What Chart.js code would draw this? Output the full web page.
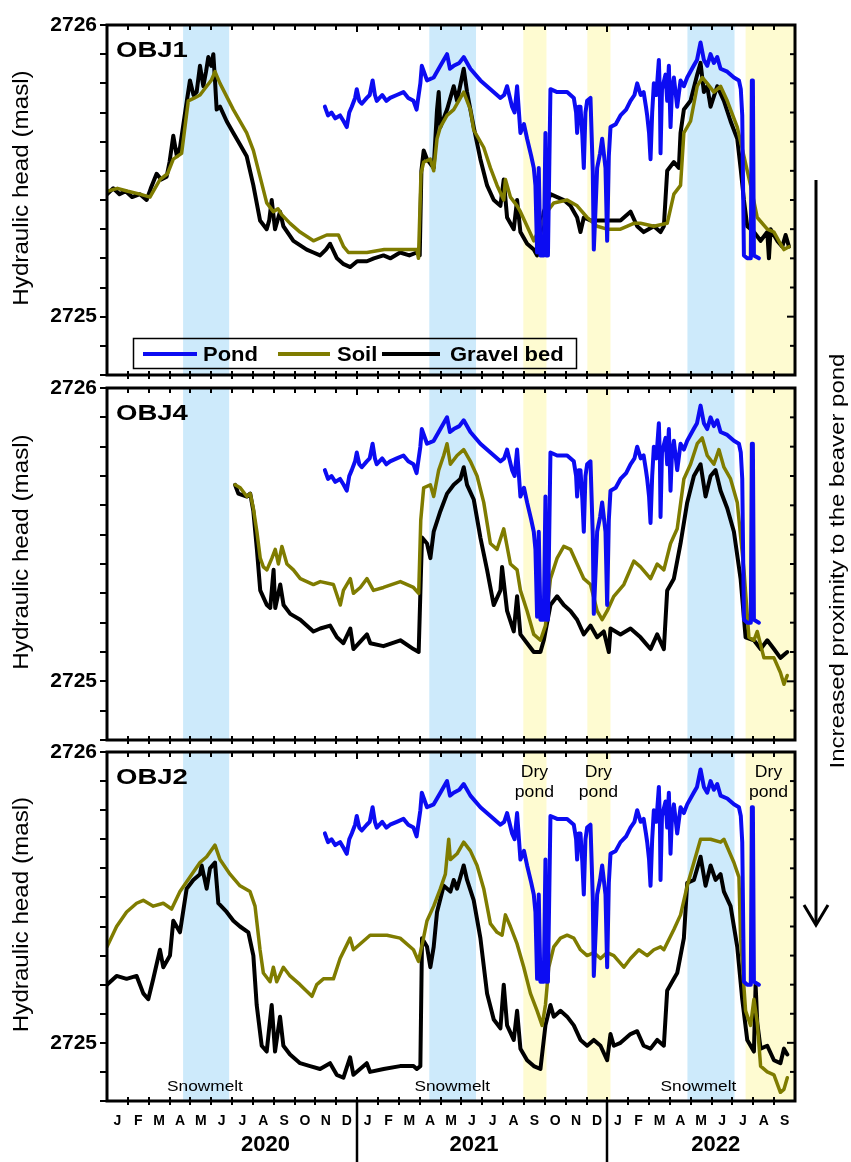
<!DOCTYPE html>
<html>
<head>
<meta charset="utf-8">
<script src="https://cdn.jsdelivr.net/npm/chart.js@4.4.0/dist/chart.umd.min.js"></script>
<style>
  html, body { margin: 0; padding: 0; background: #fff; }
  #wrap { position: relative; width: 851px; height: 1162px; }
  #wrap canvas { position: absolute; left: 0; top: 0; }
</style>
</head>
<body>
<div id="wrap">
  <canvas id="obj1" width="851" height="1162"></canvas>
  <canvas id="obj4" width="851" height="1162"></canvas>
  <canvas id="obj2" width="851" height="1162"></canvas>
</div>
<script>
// x values are months since 1 Jan 2020, y values hydraulic head (masl)
const monthLetters = ['J','F','M','A','M','J','J','A','S','O','N','D'];
const years = ['2020', '2021', '2022'];
const yearLabelAt = [7.6, 17.6, 29.2];
const yTicks = [2724.8, 2724.9, 2725.0, 2725.1, 2725.2, 2725.3, 2725.4, 2725.5, 2725.6, 2725.7, 2725.8, 2725.9, 2726.0];

const snowmeltPeriods = [[3.65, 5.86], [15.46, 17.7], [27.84, 30.1]];
const dryPondPeriods = [[19.97, 21.08], [23.04, 24.15], [30.63, 33]];
const snowmeltLabelAt = [4.7, 16.56, 28.37];
const dryPondLabelAt = [20.5, 23.57, 31.73];

// pond level (same logger shown in every panel)
const pond = [[10.45,2725.72],[10.6,2725.69],[10.77,2725.70],[10.95,2725.68],[11.18,2725.69],[11.35,2725.67],[11.5,2725.65],[11.62,2725.70],[11.74,2725.72],[11.9,2725.75],[11.98,2725.78],[12.1,2725.74],[12.22,2725.73],[12.46,2725.75],[12.6,2725.76],[12.74,2725.81],[12.85,2725.76],[12.94,2725.74],[13.2,2725.76],[13.4,2725.74],[13.58,2725.75],[13.9,2725.76],[14.22,2725.77],[14.45,2725.75],[14.7,2725.74],[14.85,2725.71],[15.03,2725.80],[15.1,2725.86],[15.35,2725.81],[15.67,2725.82],[15.99,2725.86],[16.31,2725.90],[16.45,2725.85],[16.63,2725.86],[16.9,2725.87],[17.11,2725.89],[17.43,2725.85],[17.91,2725.81],[18.39,2725.78],[18.87,2725.75],[19.05,2725.76],[19.19,2725.79],[19.43,2725.72],[19.55,2725.70],[19.67,2725.79],[19.83,2725.63],[20.0,2725.66],[20.15,2725.61],[20.35,2725.55],[20.47,2725.51],[20.55,2725.45],[20.63,2725.22],[20.71,2725.51],[20.79,2725.21],[20.95,2725.21],[21.03,2725.63],[21.07,2725.21],[21.15,2725.21],[21.27,2725.78],[21.59,2725.77],[22.07,2725.77],[22.39,2725.75],[22.5,2725.70],[22.55,2725.63],[22.62,2725.72],[22.71,2725.72],[22.8,2725.62],[22.87,2725.51],[22.95,2725.70],[23.03,2725.74],[23.19,2725.75],[23.3,2725.50],[23.35,2725.23],[23.45,2725.40],[23.51,2725.51],[23.65,2725.56],[23.75,2725.61],[23.91,2725.51],[23.99,2725.26],[24.07,2725.55],[24.15,2725.65],[24.4,2725.66],[24.63,2725.69],[24.9,2725.71],[25.11,2725.74],[25.3,2725.76],[25.43,2725.80],[25.6,2725.76],[25.74,2725.77],[25.85,2725.72],[25.91,2725.69],[26.0,2725.63],[26.07,2725.54],[26.15,2725.70],[26.23,2725.80],[26.35,2725.76],[26.47,2725.88],[26.52,2725.76],[26.55,2725.56],[26.62,2725.78],[26.79,2725.83],[26.87,2725.74],[26.95,2725.86],[27.03,2725.65],[27.1,2725.78],[27.19,2725.82],[27.35,2725.72],[27.51,2725.81],[27.67,2725.79],[27.83,2725.82],[28.14,2725.86],[28.3,2725.88],[28.47,2725.94],[28.63,2725.88],[28.79,2725.86],[28.95,2725.90],[29.11,2725.87],[29.27,2725.89],[29.43,2725.85],[29.75,2725.84],[30.07,2725.82],[30.31,2725.81],[30.4,2725.78],[30.47,2725.69],[30.55,2725.21],[30.71,2725.20],[30.88,2725.20],[30.93,2725.81],[30.98,2725.81],[31.03,2725.21],[31.27,2725.20]];

// OBJ1
const soilObj1 = [[0,2725.43],[0.5,2725.44],[1.0,2725.43],[1.58,2725.42],[2.06,2725.41],[2.54,2725.47],[2.9,2725.49],[3.18,2725.54],[3.58,2725.56],[3.9,2725.74],[4.2,2725.75],[4.46,2725.76],[4.78,2725.79],[5.0,2725.81],[5.18,2725.84],[5.42,2725.80],[6.06,2725.71],[6.7,2725.63],[7.02,2725.57],[7.34,2725.48],[7.66,2725.39],[7.98,2725.36],[8.2,2725.37],[8.38,2725.35],[8.78,2725.32],[9.26,2725.29],[9.9,2725.26],[10.54,2725.28],[11.1,2725.28],[11.35,2725.24],[11.58,2725.22],[12.47,2725.22],[13.3,2725.23],[14.06,2725.23],[14.86,2725.23],[14.94,2725.20],[15.06,2725.49],[15.19,2725.53],[15.51,2725.54],[15.67,2725.50],[15.83,2725.61],[15.99,2725.65],[16.31,2725.69],[16.63,2725.71],[17.11,2725.77],[17.43,2725.71],[17.59,2725.64],[18.07,2725.58],[18.39,2725.51],[18.71,2725.45],[19.03,2725.40],[19.11,2725.47],[19.35,2725.41],[19.67,2725.38],[19.83,2725.36],[20.15,2725.31],[20.47,2725.26],[20.79,2725.31],[21.11,2725.36],[21.43,2725.39],[22.07,2725.40],[22.55,2725.38],[23.03,2725.34],[23.51,2725.31],[23.99,2725.30],[24.63,2725.30],[25.27,2725.32],[25.59,2725.32],[26.23,2725.31],[26.87,2725.32],[27.19,2725.42],[27.51,2725.45],[27.67,2725.63],[27.99,2725.67],[28.31,2725.79],[28.55,2725.82],[28.79,2725.80],[29.11,2725.77],[29.43,2725.79],[29.75,2725.74],[30.23,2725.65],[30.55,2725.55],[30.87,2725.45],[31.19,2725.34],[31.67,2725.30],[31.99,2725.29],[32.3,2725.25],[32.47,2725.23],[32.71,2725.24]];
const gravelObj1 = [[0,2725.42],[0.3,2725.44],[0.6,2725.42],[0.9,2725.43],[1.2,2725.41],[1.58,2725.42],[1.9,2725.40],[2.1,2725.44],[2.38,2725.49],[2.6,2725.47],[2.86,2725.48],[3.0,2725.53],[3.18,2725.62],[3.35,2725.55],[3.5,2725.58],[3.83,2725.74],[3.98,2725.81],[4.15,2725.76],[4.3,2725.77],[4.46,2725.86],[4.62,2725.79],[4.75,2725.84],[4.86,2725.89],[5.0,2725.86],[5.1,2725.90],[5.18,2725.81],[5.26,2725.71],[5.42,2725.72],[5.74,2725.67],[6.06,2725.63],[6.38,2725.59],[6.7,2725.55],[7.02,2725.45],[7.34,2725.33],[7.66,2725.30],[7.78,2725.33],[7.9,2725.40],[8.06,2725.30],[8.3,2725.36],[8.46,2725.31],[8.94,2725.26],[9.58,2725.23],[9.9,2725.22],[10.22,2725.21],[10.5,2725.23],[10.7,2725.25],[11.03,2725.20],[11.35,2725.18],[11.67,2725.17],[12.0,2725.19],[12.47,2725.19],[12.8,2725.20],[13.26,2725.21],[13.6,2725.20],[14.06,2725.22],[14.5,2725.21],[14.86,2725.22],[15.0,2725.21],[15.08,2725.50],[15.19,2725.57],[15.35,2725.54],[15.67,2725.51],[15.83,2725.71],[15.91,2725.77],[15.99,2725.65],[16.31,2725.71],[16.63,2725.79],[16.79,2725.74],[17.11,2725.85],[17.27,2725.77],[17.59,2725.65],[17.91,2725.54],[18.23,2725.45],[18.55,2725.40],[18.87,2725.38],[19.03,2725.47],[19.19,2725.34],[19.51,2725.30],[19.67,2725.40],[19.83,2725.29],[20.15,2725.25],[20.47,2725.23],[20.63,2725.21],[20.95,2725.36],[21.27,2725.42],[21.59,2725.41],[21.91,2725.40],[22.23,2725.38],[22.55,2725.34],[22.71,2725.29],[22.87,2725.34],[23.19,2725.33],[23.67,2725.33],[24.15,2725.33],[24.63,2725.33],[25.11,2725.36],[25.43,2725.31],[25.74,2725.29],[26.23,2725.31],[26.55,2725.29],[26.71,2725.31],[26.87,2725.50],[27.19,2725.53],[27.43,2725.51],[27.51,2725.63],[27.67,2725.71],[27.99,2725.74],[28.31,2725.83],[28.47,2725.87],[28.63,2725.77],[28.79,2725.79],[28.95,2725.72],[29.27,2725.79],[29.59,2725.74],[29.91,2725.67],[30.23,2725.61],[30.39,2725.51],[30.55,2725.40],[30.71,2725.31],[31.03,2725.29],[31.35,2725.26],[31.67,2725.29],[31.75,2725.20],[31.83,2725.30],[32.15,2725.26],[32.39,2725.24],[32.55,2725.28],[32.71,2725.24]];

// OBJ4
const soilObj4 = [[6.14,2725.67],[6.39,2725.66],[6.71,2725.63],[6.87,2725.64],[7.02,2725.59],[7.19,2725.51],[7.35,2725.42],[7.5,2725.39],[7.67,2725.38],[7.91,2725.42],[8.07,2725.45],[8.22,2725.40],[8.39,2725.46],[8.63,2725.40],[8.94,2725.38],[9.27,2725.35],[9.9,2725.33],[10.23,2725.34],[10.86,2725.33],[11.19,2725.26],[11.34,2725.31],[11.67,2725.35],[11.82,2725.30],[12.15,2725.32],[12.47,2725.35],[12.78,2725.31],[13.26,2725.32],[14.07,2725.34],[14.7,2725.32],[14.95,2725.30],[15.05,2725.55],[15.19,2725.66],[15.51,2725.67],[15.67,2725.63],[15.91,2725.72],[16.15,2725.77],[16.31,2725.81],[16.47,2725.74],[16.79,2725.77],[17.11,2725.79],[17.43,2725.75],[17.75,2725.70],[18.07,2725.61],[18.39,2725.47],[18.71,2725.45],[19.03,2725.52],[19.35,2725.40],[19.67,2725.38],[19.83,2725.31],[20.15,2725.24],[20.47,2725.16],[20.79,2725.14],[21.03,2725.19],[21.27,2725.35],[21.59,2725.42],[21.91,2725.46],[22.23,2725.45],[22.55,2725.40],[22.87,2725.35],[23.19,2725.33],[23.51,2725.24],[23.75,2725.21],[23.99,2725.24],[24.31,2725.29],[24.79,2725.33],[25.27,2725.41],[25.59,2725.39],[26.07,2725.35],[26.39,2725.40],[26.71,2725.38],[27.03,2725.47],[27.35,2725.52],[27.67,2725.69],[27.99,2725.74],[28.31,2725.81],[28.55,2725.83],[28.79,2725.77],[29.11,2725.74],[29.35,2725.79],[29.59,2725.73],[29.91,2725.69],[30.23,2725.61],[30.55,2725.38],[30.79,2725.15],[31.03,2725.14],[31.19,2725.17],[31.51,2725.08],[31.99,2725.08],[32.3,2725.03],[32.47,2724.99],[32.63,2725.02]];
const gravelObj4 = [[6.14,2725.67],[6.3,2725.64],[6.71,2725.63],[6.87,2725.64],[7.02,2725.58],[7.19,2725.45],[7.35,2725.31],[7.67,2725.26],[7.83,2725.25],[7.99,2725.38],[8.07,2725.25],[8.31,2725.33],[8.47,2725.26],[8.79,2725.23],[9.27,2725.21],[9.9,2725.17],[10.23,2725.18],[10.7,2725.19],[11.03,2725.15],[11.34,2725.13],[11.67,2725.18],[11.82,2725.11],[12.47,2725.16],[12.63,2725.13],[13.26,2725.12],[14.07,2725.14],[14.7,2725.11],[14.95,2725.10],[15.05,2725.35],[15.11,2725.49],[15.35,2725.47],[15.51,2725.42],[15.67,2725.51],[15.99,2725.58],[16.31,2725.64],[16.63,2725.67],[16.95,2725.69],[17.11,2725.73],[17.27,2725.67],[17.59,2725.62],[17.91,2725.49],[18.23,2725.38],[18.55,2725.26],[18.87,2725.31],[18.95,2725.39],[19.19,2725.24],[19.51,2725.17],[19.67,2725.29],[19.83,2725.16],[20.15,2725.13],[20.47,2725.10],[20.79,2725.10],[20.95,2725.14],[21.27,2725.26],[21.59,2725.29],[21.91,2725.26],[22.23,2725.24],[22.55,2725.21],[22.87,2725.16],[23.19,2725.19],[23.51,2725.15],[23.83,2725.17],[24.07,2725.10],[24.15,2725.18],[24.63,2725.16],[25.11,2725.18],[25.59,2725.15],[26.07,2725.11],[26.39,2725.16],[26.71,2725.11],[26.87,2725.31],[27.19,2725.35],[27.51,2725.47],[27.83,2725.61],[28.15,2725.70],[28.47,2725.74],[28.71,2725.63],[28.95,2725.70],[29.19,2725.72],[29.43,2725.65],[29.75,2725.59],[30.07,2725.51],[30.39,2725.35],[30.63,2725.15],[31.03,2725.14],[31.35,2725.11],[31.67,2725.14],[31.99,2725.11],[32.3,2725.08],[32.63,2725.10]];

// OBJ2
const soilObj2 = [[0,2725.33],[0.46,2725.40],[0.94,2725.45],[1.42,2725.48],[1.74,2725.49],[2.22,2725.47],[2.7,2725.48],[3.1,2725.46],[3.5,2725.52],[3.98,2725.57],[4.46,2725.62],[4.78,2725.64],[5.18,2725.68],[5.42,2725.63],[5.9,2725.58],[6.38,2725.54],[6.86,2725.52],[7.1,2725.47],[7.34,2725.32],[7.5,2725.24],[7.82,2725.21],[7.98,2725.26],[8.14,2725.21],[8.46,2725.26],[8.78,2725.23],[9.26,2725.20],[9.83,2725.16],[10.06,2725.20],[10.38,2725.22],[10.86,2725.22],[11.18,2725.29],[11.66,2725.36],[11.82,2725.32],[12.14,2725.34],[12.62,2725.37],[13.43,2725.37],[14.06,2725.36],[14.7,2725.32],[14.94,2725.28],[15.18,2725.36],[15.35,2725.42],[15.67,2725.47],[15.99,2725.53],[16.23,2725.58],[16.39,2725.70],[16.47,2725.63],[16.79,2725.65],[17.11,2725.69],[17.43,2725.66],[17.75,2725.61],[18.07,2725.53],[18.39,2725.41],[18.71,2725.38],[18.95,2725.37],[19.11,2725.44],[19.35,2725.40],[19.67,2725.34],[19.99,2725.26],[20.31,2725.17],[20.63,2725.11],[20.87,2725.06],[21.03,2725.13],[21.19,2725.26],[21.43,2725.33],[21.75,2725.36],[22.07,2725.37],[22.39,2725.36],[22.71,2725.32],[23.03,2725.30],[23.35,2725.31],[23.67,2725.29],[23.99,2725.31],[24.31,2725.30],[24.79,2725.26],[25.11,2725.29],[25.51,2725.32],[25.91,2725.30],[26.23,2725.32],[26.55,2725.33],[26.71,2725.32],[27.19,2725.39],[27.51,2725.44],[27.83,2725.54],[28.15,2725.62],[28.47,2725.70],[28.95,2725.70],[29.43,2725.69],[29.59,2725.70],[30.07,2725.62],[30.31,2725.57],[30.39,2725.36],[30.63,2725.11],[30.87,2725.06],[31.03,2725.15],[31.19,2725.07],[31.35,2724.92],[31.67,2724.90],[31.99,2724.89],[32.3,2724.83],[32.47,2724.84],[32.63,2724.88]];
const gravelObj2 = [[0,2725.20],[0.46,2725.23],[0.94,2725.22],[1.42,2725.23],[1.74,2725.17],[1.98,2725.15],[2.22,2725.22],[2.54,2725.32],[2.7,2725.26],[3.02,2725.30],[3.18,2725.42],[3.5,2725.38],[3.82,2725.53],[4.14,2725.56],[4.46,2725.58],[4.54,2725.61],[4.78,2725.53],[4.94,2725.60],[5.18,2725.62],[5.34,2725.48],[5.74,2725.45],[6.06,2725.42],[6.38,2725.40],[6.78,2725.38],[7.02,2725.30],[7.18,2725.13],[7.42,2724.99],[7.66,2724.97],[7.9,2725.13],[8.06,2724.97],[8.3,2725.09],[8.46,2724.99],[8.78,2724.96],[9.26,2724.93],[9.74,2724.92],[10.22,2724.91],[10.7,2724.93],[11.02,2724.89],[11.34,2724.88],[11.66,2724.95],[11.82,2724.89],[12.46,2724.93],[12.62,2724.90],[13.27,2724.91],[14.06,2724.92],[14.7,2724.92],[14.86,2724.91],[15.03,2724.92],[15.11,2725.36],[15.35,2725.33],[15.51,2725.26],[15.67,2725.33],[15.83,2725.45],[16.15,2725.54],[16.47,2725.52],[16.63,2725.56],[16.79,2725.53],[17.11,2725.61],[17.27,2725.56],[17.59,2725.49],[17.91,2725.36],[18.23,2725.17],[18.55,2725.08],[18.87,2725.05],[19.03,2725.20],[19.19,2725.06],[19.51,2725.01],[19.67,2725.11],[19.83,2724.98],[20.15,2724.94],[20.47,2724.92],[20.79,2724.91],[21.03,2725.06],[21.27,2725.13],[21.43,2725.09],[21.75,2725.11],[22.07,2725.09],[22.39,2725.06],[22.71,2725.01],[23.03,2724.99],[23.35,2725.01],[23.67,2724.99],[23.99,2724.94],[24.15,2725.03],[24.31,2724.99],[24.63,2725.00],[25.11,2725.03],[25.43,2725.04],[25.74,2724.99],[26.07,2724.98],[26.39,2725.01],[26.71,2724.99],[26.87,2725.18],[27.19,2725.22],[27.35,2725.24],[27.67,2725.36],[27.83,2725.55],[28.15,2725.56],[28.47,2725.64],[28.71,2725.54],[28.95,2725.61],[29.19,2725.56],[29.43,2725.58],[29.59,2725.52],[29.91,2725.47],[30.23,2725.33],[30.47,2725.15],[30.71,2725.01],[31.03,2724.97],[31.11,2725.20],[31.19,2725.07],[31.35,2724.98],[31.67,2724.99],[31.99,2724.94],[32.3,2724.93],[32.47,2724.98],[32.63,2724.96]];

const FONT = "'Liberation Sans', Arial, sans-serif";
const BLUE = '#0c0cf2';
const OLIVE = '#7f7c00';
const MONTHS = 33;

function line(ctx, x0, y0, x1, y1) {
  ctx.beginPath(); ctx.moveTo(x0, y0); ctx.lineTo(x1, y1); ctx.stroke();
}

// text with a little horizontal stretch, like the original figure's lettering
function txt(ctx, s, x, y, font, sx, rot, align) {
  ctx.save();
  ctx.translate(x, y);
  if (rot) ctx.rotate(rot);
  ctx.scale(sx || 1, 1);
  ctx.font = font;
  ctx.fillStyle = '#000';
  ctx.textAlign = align || 'center';
  ctx.textBaseline = 'middle';
  ctx.fillText(s, 0, 0);
  ctx.restore();
}

const decor = {
  id: 'decor',
  beforeDatasetsDraw(chart) {
    const {ctx, chartArea: a, scales: {x}} = chart;
    ctx.save();
    ctx.fillStyle = '#cdeafb';
    snowmeltPeriods.forEach(p => {
      const x0 = x.getPixelForValue(p[0]), x1 = x.getPixelForValue(p[1]);
      ctx.fillRect(x0, a.top, x1 - x0, a.bottom - a.top);
    });
    ctx.fillStyle = '#fefbd1';
    dryPondPeriods.forEach(p => {
      const x0 = x.getPixelForValue(p[0]), x1 = x.getPixelForValue(p[1]);
      ctx.fillRect(x0, a.top, x1 - x0, a.bottom - a.top);
    });
    ctx.restore();
  },
  afterDatasetsDraw(chart, args, o) {
    const {ctx, chartArea: a, scales: {x, y}} = chart;
    ctx.save();
    ctx.strokeStyle = '#000';
    ctx.lineWidth = 2;
    // month ticks on top and bottom edges
    for (let m = 1; m < MONTHS; m++) {
      const px = Math.round(x.getPixelForValue(m));
      const L = m % 12 === 0 ? 7 : 5;
      line(ctx, px, a.top, px, a.top + L);
      line(ctx, px, a.bottom - 4, px, a.bottom + 4);
    }
    // right-hand ticks
    yTicks.forEach((v, i) => {
      const py = y.getPixelForValue(v);
      const L = (i === 2 || i === 12) ? 8 : 5;
      line(ctx, a.right - L, py, a.right, py);
    });
    ctx.lineWidth = 3;
    ctx.strokeRect(a.left, a.top, a.right - a.left, a.bottom - a.top);

    txt(ctx, o.label, a.left + 9, a.top + 26, 'bold 22px ' + FONT, 1.25, 0, 'left');
    txt(ctx, 'Hydraulic head (masl)', 22, (a.top + a.bottom) / 2 - 12, '22px ' + FONT, 1.1, -Math.PI / 2);

    if (o.legend) {
      const ly = a.bottom - 21;
      ctx.lineWidth = 1.5;
      ctx.strokeRect(a.left + 26.5, ly - 15.5, 443, 30);
      const pos = [[36, 90, 96], [171, 223, 230], [275, 333, 343]];
      chart.data.datasets.forEach((ds, i) => {
        ctx.strokeStyle = ds.borderColor;
        ctx.lineWidth = 4;
        line(ctx, a.left + pos[i][0], ly, a.left + pos[i][1], ly);
        txt(ctx, ds.label, a.left + pos[i][2], ly + 1, 'bold 20px ' + FONT, 1.1, 0, 'left');
      });
    }

    if (o.bottom) {
      snowmeltLabelAt.forEach(m => txt(ctx, 'Snowmelt', x.getPixelForValue(m), a.bottom - 14, '15px ' + FONT, 1.15));
      dryPondLabelAt.forEach(m => {
        const px = x.getPixelForValue(m);
        txt(ctx, 'Dry', px, a.top + 21, '16px ' + FONT, 1.1);
        txt(ctx, 'pond', px, a.top + 41, '16px ' + FONT, 1.1);
      });
      years.forEach((s, i) => txt(ctx, s, x.getPixelForValue(yearLabelAt[i]), 1145, 'bold 22px ' + FONT, 1.0));
      ctx.strokeStyle = '#000';
      ctx.lineWidth = 2.5;
      [12, 24].forEach(m => {
        const px = Math.round(x.getPixelForValue(m));
        line(ctx, px, a.bottom, px, 1162);
      });
      // proximity arrow at the right
      ctx.lineWidth = 3;
      line(ctx, 816, 180, 816, 924);
      ctx.beginPath();
      ctx.moveTo(804, 905); ctx.lineTo(816, 925); ctx.lineTo(828, 905);
      ctx.stroke();
      txt(ctx, 'Increased proximity to the beaver pond', 838, 561, '20px ' + FONT, 1.2, -Math.PI / 2);
    }
    ctx.restore();
  }
};

function makePanel(id, label, soil, gravel, top, bottom, opts) {
  const isBottom = !!opts.bottom;
  const xAxisH = 30;
  return new Chart(document.getElementById(id), {
    type: 'line',
    data: {
      datasets: [
        { label: 'Pond', data: pond, borderColor: BLUE, borderWidth: 4 },
        { label: 'Soil', data: soil, borderColor: OLIVE, borderWidth: 3.5 },
        { label: 'Gravel bed', data: gravel, borderColor: '#000', borderWidth: 4 }
      ]
    },
    options: {
      responsive: false,
      animation: false,
      devicePixelRatio: 1,
      events: [],
      elements: {
        point: { radius: 0 },
        line: { tension: 0, borderJoinStyle: 'round', borderCapStyle: 'round' }
      },
      layout: { padding: { left: 0, right: 56, top: top, bottom: 1162 - bottom - (isBottom ? xAxisH : 0) } },
      plugins: {
        legend: { display: false },
        tooltip: { enabled: false },
        decor: { label: label, legend: !!opts.legend, bottom: isBottom }
      },
      scales: {
        x: {
          type: 'linear', min: 0, max: MONTHS, display: isBottom,
          grid: { display: false, drawTicks: false },
          border: { display: false },
          afterBuildTicks: s => {
            const t = [];
            for (let m = 0; m < MONTHS; m++) t.push({ value: m + 0.5 });
            s.ticks = t;
          },
          afterFit: s => { s.height = isBottom ? xAxisH : 0; },
          ticks: {
            autoSkip: false, maxRotation: 0, minRotation: 0, padding: 12, color: '#000',
            font: { family: FONT, size: 14, weight: 'bold' },
            callback: (v, i) => monthLetters[i % 12]
          }
        },
        y: {
          type: 'linear', min: 2724.8, max: 2726,
          afterBuildTicks: s => { s.ticks = yTicks.map(v => ({ value: v })); },
          afterFit: s => { s.width = 107; },
          border: { display: false },
          grid: { drawOnChartArea: false, drawTicks: true, tickLength: 7, color: '#000', lineWidth: 2 },
          ticks: {
            autoSkip: false, padding: 3, color: '#000',
            font: { family: FONT, size: 21, weight: 'bold' },
            callback: v => Math.abs(v - Math.round(v)) < 1e-6 ? String(Math.round(v)) : ''
          }
        }
      }
    },
    plugins: [decor]
  });
}

makePanel('obj1', 'OBJ1', soilObj1, gravelObj1, 25, 375, { legend: true });
makePanel('obj4', 'OBJ4', soilObj4, gravelObj4, 388, 740, {});
makePanel('obj2', 'OBJ2', soilObj2, gravelObj2, 752, 1101, { bottom: true });
</script>
</body>
</html>
